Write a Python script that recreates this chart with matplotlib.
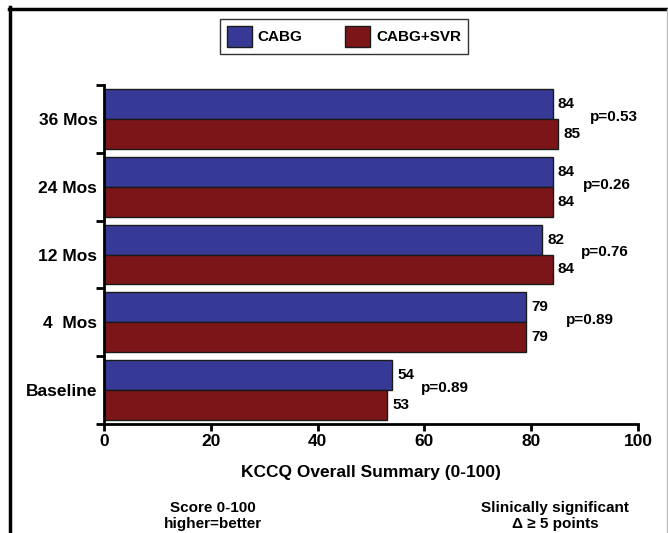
import matplotlib
matplotlib.use('Agg')
import matplotlib.pyplot as plt
from matplotlib.lines import Line2D
from matplotlib.patches import Patch
import numpy as np

plt.rcParams['font.family'] = ['Liberation Sans', 'DejaVu Sans']
plt.rcParams['font.weight'] = 'bold'

# data (bottom to top)
categories = ['Baseline', '4  Mos', '12 Mos', '24 Mos', '36 Mos']
cabg = [54, 79, 82, 84, 84]
cabg_svr = [53, 79, 84, 84, 85]
p_labels = ['p=0.89', 'p=0.89', 'p=0.76', 'p=0.26', 'p=0.53']

# layout of p-value labels (x in data units)
p_x = [59.3, 86.5, 89.3, 89.7, 91.0]

blue = '#363a96'
red = '#7b1518'

fig = plt.figure(figsize=(6.68, 5.33), dpi=100)
ax = fig.add_axes([0.156, 0.2045, 0.799, 0.636])

y = np.arange(len(categories))
h = 0.44
ax.barh(y + h / 2, cabg, height=h, color=blue, edgecolor='#1a1a1a', linewidth=1)
ax.barh(y - h / 2, cabg_svr, height=h, color=red, edgecolor='#1a1a1a', linewidth=1)

for i in range(len(categories)):
    ax.text(cabg[i] + 1, y[i] + h / 2, str(cabg[i]), va='center', ha='left',
            fontsize=11, fontweight='bold')
    ax.text(cabg_svr[i] + 1, y[i] - h / 2, str(cabg_svr[i]), va='center', ha='left',
            fontsize=11, fontweight='bold')
    ax.text(p_x[i], y[i] + 0.03, p_labels[i], va='center', ha='left', fontsize=11, fontweight='bold')

ax.set_xlim(0, 100)
ax.set_ylim(-0.5, len(categories) - 0.5)
ax.set_xticks([0, 20, 40, 60, 80, 100])
ax.set_xticklabels(['0', '20', '40', '60', '80', '100'], fontsize=12.5, fontweight='bold',
                   family=['Liberation Sans Narrow', 'Liberation Sans'])
ax.set_yticks(np.arange(-0.5, len(categories), 1.0))
ax.set_yticklabels([])
ax.set_yticks(y, minor=True)
ax.set_yticklabels(categories, minor=True, fontsize=12.5, fontweight='bold')
ax.tick_params(axis='y', which='minor', length=0, pad=5)
ax.tick_params(axis='y', which='major', length=6, width=2)
ax.tick_params(axis='x', length=5, width=2, pad=2)
for s in ['top', 'right']:
    ax.spines[s].set_visible(False)
for s in ['left', 'bottom']:
    ax.spines[s].set_linewidth(2)
ax.set_xlabel('KCCQ Overall Summary (0-100)', fontsize=12.5, fontweight='bold', labelpad=12)

handles = [Patch(facecolor=blue, edgecolor='#1a1a1a', label='CABG'),
           Patch(facecolor=red, edgecolor='#1a1a1a', label='CABG+SVR')]
leg = fig.legend(handles=handles, loc='center', bbox_to_anchor=(0.515, 0.9315), ncol=2,
                 frameon=True, fancybox=False, edgecolor='black', handlelength=1.6,
                 handleheight=1.7, handletextpad=0.4, columnspacing=2.8,
                 prop={'weight': 'bold', 'size': 11}, borderpad=0.45)
leg.get_frame().set_linewidth(1)

fig.text(0.319, 0.032, 'Score 0-100\nhigher=better', ha='center', va='center',
         fontsize=11, fontweight='bold', linespacing=1.25)
fig.text(0.831, 0.032, 'Slinically significant\n\u0394 \u2265 5 points', ha='center', va='center',
         fontsize=11, fontweight='bold', linespacing=1.25)

# slide frame
fig.add_artist(Line2D([0.0135, 1.0], [0.984, 0.984], color='black', lw=2.5))
fig.add_artist(Line2D([0.0155, 0.0155], [0.0, 0.986], color='black', lw=2.5))
fig.add_artist(Line2D([0.998, 0.998], [0.0, 0.984], color='#bbbbbb', lw=1))

fig.savefig('out.png', dpi=100)
